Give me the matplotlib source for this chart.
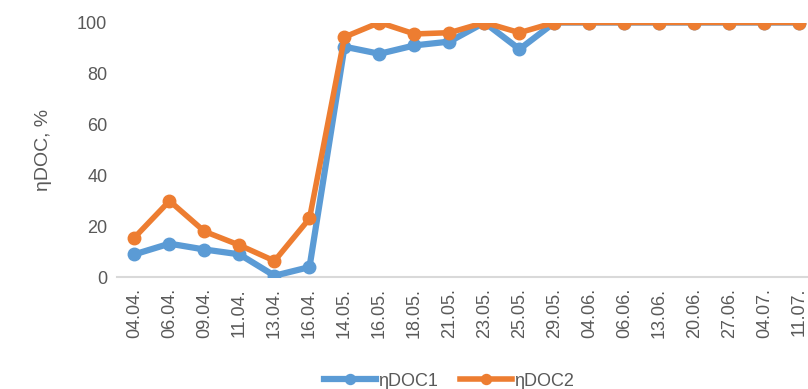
import matplotlib.pyplot as plt
import numpy as np

dates = ['04.04.', '06.04.', '09.04.', '11.04.', '13.04.', '16.04.', '14.05.', '16.05.',
         '18.05.', '21.05.', '23.05.', '25.05.', '29.05.', '04.06.', '06.06.', '13.06.',
         '20.06.', '27.06.', '04.07.', '11.07.']
doc1 = [8.9, 13.1, 10.8, 8.9, 0.5, 3.9, 90.5, 87.7, 91.0, 92.5, 100, 89.5,
        100, 100, 100, 100, 100, 100, 100, 100]
doc2 = [15.5, 29.9, 17.9, 12.5, 6.3, 23.0, 94.3, 100, 95.5, 96.0, 100, 96.0,
        100, 100, 100, 100, 100, 100, 100, 100]

plt.rcParams['font.family'] = ['Liberation Sans', 'DejaVu Sans']
text_col = '#595959'

fig = plt.figure(figsize=(8.08, 3.89), dpi=100)
# axes runs a bit past the right edge of the figure
ax = fig.add_axes([117 / 808, 112 / 389, 700 / 808, 254.5 / 389])

x = np.arange(len(dates))
ax.plot(x, doc1, color='#5B9BD5', lw=4.5, marker='o', ms=9, label='ηDOC1', zorder=3)
ax.plot(x, doc2, color='#ED7D31', lw=4, marker='o', ms=9, label='ηDOC2', zorder=4)

ax.set_xlim(-0.5, len(dates) - 0.5)
ax.set_ylim(0, 100)
ax.set_yticks([0, 20, 40, 60, 80, 100])
ax.set_xticks(x)
ax.set_xticklabels(dates, rotation=90)
ax.tick_params(axis='both', length=0, labelsize=13, labelcolor=text_col)
ax.tick_params(axis='y', pad=7)
ax.tick_params(axis='x', pad=8)

for s in ['top', 'right', 'left']:
    ax.spines[s].set_visible(False)
ax.spines['bottom'].set_color('#D9D9D9')
ax.spines['bottom'].set_linewidth(1.5)

ax.set_ylabel('ηDOC, %', fontsize=14, color=text_col, labelpad=18)

fig.legend(loc='center', bbox_to_anchor=(449 / 808, 0.02), ncol=2, frameon=False,
           fontsize=13, labelcolor=text_col, handlelength=2.9, handletextpad=0.1,
           columnspacing=1.2, borderpad=0, markerscale=0.8)

fig.savefig('out.png', dpi=100)
